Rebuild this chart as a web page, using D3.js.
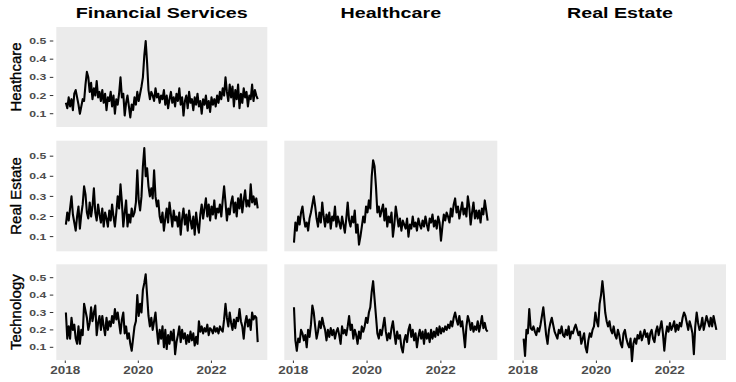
<!DOCTYPE html>
<html><head><meta charset="utf-8">
<script src="https://cdn.jsdelivr.net/npm/d3@7"></script>
<style>body{margin:0;background:#fff}svg{display:block}</style>
</head><body>
<svg id="c" width="736" height="382"></svg>
<script>
// ---- data ----
const colNames = ["Financial Services", "Healthcare", "Real Estate"];
const rowNames = ["Heathcare", "Real Estate", "Technology"];
const yTicks = [0.1, 0.2, 0.3, 0.4, 0.5];
const xTickYears = [2018, 2020, 2022];
const startDate = "2018-01-07"; // first observation, 14-day step
const stepDays = 14;

const fsHealthcare = [
 0.16,0.13,0.19,0.14,0.18,0.12, 0.21,0.23,0.19,0.15,0.10, 0.14,0.18,0.17,
 0.26,0.33,0.30,0.22,0.27, 0.18,0.24,0.20,0.28,0.19,0.22,0.17,
 0.23,0.16,0.21,0.12,0.19,0.17,0.22, 0.14,0.20,0.10,0.18,0.15,0.21,
 0.30,0.19,0.21, 0.09,0.16,0.20,0.14,0.08,0.15,0.12,0.19,0.15,
 0.22,0.17,0.21,0.25,0.30, 0.42,0.50,0.38, 0.23,0.18,0.22,0.20,
 0.17,0.24,0.19,0.21,0.16,0.20,0.18,0.23,
 0.15,0.20,0.13,0.18,0.22,0.16,0.19,0.14,0.21,0.17,
 0.24,0.15,0.19,0.09,0.17,0.20,0.13,0.22,0.16,0.18,
 0.12,0.19,0.15,0.21,0.14,0.17,0.10,0.18,0.15,0.20,
 0.13,0.17,0.11,0.19,0.15,0.18,0.14,0.20,0.16,0.22,
 0.18,0.24,0.20,0.30,0.22,
 0.17,0.26,0.19,0.25,0.14,0.23,0.18,0.26,0.13,0.21,
 0.16,0.24,0.19,0.22,0.14,0.20,0.18,0.26,0.17,0.23,0.20,0.18];

const fsRealEstate = [
 0.16,0.22,0.18,0.24,0.30,0.21,0.17,0.13,0.20,0.25,
 0.14,0.21,0.26,0.35,0.31,0.22,0.19,0.27,0.20,0.25,
 0.34,0.22,0.18,0.26,0.21,0.17,0.24,0.15,0.22,0.19,
 0.15,0.23,0.18,0.26,0.20,0.15,0.22,0.30,0.24,0.36,
 0.27,0.15,0.22,0.28,0.15,0.21,0.17,0.24,0.20,0.22,
 0.27,0.43,0.28,0.23,0.30,0.45,0.54,0.40,0.44,0.35,
 0.30,0.34,0.29,0.43,0.30,0.25,0.28,0.20,0.17,0.22,
 0.13,0.19,0.24,0.17,0.27,0.21,0.15,0.23,0.18,0.20,
 0.15,0.22,0.11,0.19,0.24,0.16,0.21,0.13,0.23,0.18,
 0.14,0.20,0.11,0.22,0.16,0.12,0.21,0.26,0.19,0.24,
 0.29,0.20,0.26,0.18,0.25,0.21,0.28,0.19,0.24,0.22,
 0.26,0.20,0.28,0.35,0.27,0.18,0.24,0.21,0.27,0.30,
 0.22,0.27,0.20,0.29,0.24,0.31,0.22,0.28,0.33,0.25,
 0.28,0.25,0.36,0.27,0.30,0.26,0.29,0.24];

const fsTechnology = [
 0.30,0.15,0.22,0.15,0.27,0.20,0.23,0.15,0.12,0.22,
 0.12,0.20,0.17,0.35,0.31,0.27,0.20,0.24,0.33,0.25,
 0.30,0.34,0.17,0.24,0.28,0.20,0.28,0.22,0.17,0.27,
 0.20,0.25,0.22,0.28,0.24,0.32,0.26,0.30,0.24,0.18,
 0.26,0.30,0.18,0.22,0.15,0.18,0.12,0.08,0.15,0.22,
 0.25,0.40,0.28,0.35,0.30,0.43,0.47,0.52,0.40,0.28,
 0.22,0.27,0.20,0.25,0.30,0.20,0.12,0.20,0.15,0.22,
 0.10,0.20,0.09,0.17,0.12,0.19,0.14,0.20,0.06,0.13,
 0.17,0.22,0.13,0.20,0.15,0.18,0.12,0.17,0.13,0.19,
 0.14,0.18,0.11,0.16,0.12,0.25,0.19,0.22,0.18,0.21,
 0.19,0.23,0.17,0.21,0.20,0.18,0.22,0.19,0.21,0.18,
 0.22,0.20,0.19,0.26,0.35,0.27,0.22,0.30,0.24,0.20,
 0.26,0.21,0.27,0.25,0.32,0.25,0.22,0.15,0.24,0.28,
 0.22,0.26,0.20,0.30,0.26,0.28,0.27,0.13];

const hcRealEstate = [
 0.07,0.17,0.13,0.20,0.16,0.22,0.25,0.19,0.15,0.17,
 0.13,0.19,0.22,0.26,0.30,0.25,0.19,0.15,0.22,0.17,
 0.27,0.20,0.15,0.21,0.17,0.22,0.14,0.20,0.18,0.25,
 0.15,0.20,0.17,0.14,0.20,0.16,0.12,0.19,0.27,0.18,
 0.15,0.20,0.17,0.23,0.12,0.16,0.06,0.10,0.15,0.20,
 0.17,0.25,0.22,0.28,0.24,0.40,0.48,0.45,0.35,0.22,
 0.25,0.20,0.23,0.26,0.18,0.24,0.15,0.20,0.17,0.22,
 0.10,0.16,0.25,0.20,0.15,0.19,0.13,0.18,0.16,0.14,
 0.19,0.10,0.16,0.14,0.20,0.15,0.17,0.13,0.19,0.16,
 0.14,0.18,0.15,0.20,0.16,0.13,0.19,0.17,0.21,0.15,
 0.18,0.14,0.20,0.17,0.08,0.15,0.21,0.18,0.22,0.20,
 0.17,0.24,0.20,0.26,0.29,0.22,0.25,0.19,0.23,0.27,
 0.21,0.24,0.20,0.30,0.25,0.16,0.22,0.27,0.19,0.23,
 0.19,0.23,0.17,0.24,0.21,0.28,0.23,0.18];

const hcTechnology = [
 0.33,0.14,0.08,0.15,0.13,0.20,0.18,0.14,0.17,0.10,
 0.20,0.16,0.23,0.34,0.30,0.22,0.15,0.19,0.25,0.21,
 0.27,0.23,0.20,0.14,0.20,0.16,0.21,0.17,0.20,0.15,
 0.19,0.21,0.17,0.12,0.22,0.18,0.20,0.17,0.22,0.28,
 0.20,0.23,0.15,0.20,0.17,0.12,0.19,0.15,0.22,0.19,
 0.22,0.27,0.24,0.30,0.33,0.42,0.48,0.38,0.28,0.18,
 0.15,0.20,0.17,0.22,0.27,0.19,0.14,0.18,0.15,0.21,
 0.25,0.18,0.12,0.19,0.15,0.17,0.10,0.07,0.14,0.17,
 0.13,0.20,0.23,0.16,0.20,0.14,0.18,0.10,0.16,0.20,
 0.15,0.19,0.12,0.20,0.15,0.18,0.13,0.20,0.15,0.19,
 0.16,0.21,0.17,0.22,0.18,0.21,0.19,0.22,0.20,0.23,
 0.21,0.25,0.22,0.27,0.30,0.26,0.23,0.28,0.22,0.25,
 0.18,0.10,0.22,0.28,0.25,0.20,0.24,0.19,0.22,0.20,
 0.25,0.19,0.23,0.28,0.21,0.24,0.20,0.19];

const reTechnology = [
 0.15,0.05,0.20,0.18,0.32,0.21,0.20,0.22,0.19,0.17,
 0.21,0.19,0.23,0.28,0.33,0.25,0.17,0.12,0.20,0.24,
 0.27,0.23,0.19,0.17,0.15,0.20,0.18,0.22,0.17,0.16,
 0.20,0.17,0.22,0.15,0.19,0.18,0.21,0.23,0.20,0.17,
 0.19,0.12,0.15,0.18,0.10,0.07,0.14,0.18,0.16,0.20,
 0.22,0.30,0.25,0.22,0.35,0.40,0.48,0.40,0.30,0.25,
 0.22,0.25,0.20,0.18,0.22,0.17,0.15,0.20,0.17,0.12,
 0.10,0.18,0.20,0.15,0.12,0.10,0.15,0.02,0.12,0.15,
 0.12,0.17,0.15,0.19,0.14,0.17,0.20,0.16,0.18,0.12,
 0.18,0.20,0.15,0.13,0.19,0.22,0.17,0.21,0.25,0.18,
 0.08,0.17,0.22,0.19,0.24,0.20,0.22,0.25,0.19,0.23,
 0.20,0.24,0.22,0.27,0.30,0.28,0.24,0.20,0.25,0.22,
 0.18,0.06,0.22,0.30,0.24,0.20,0.22,0.27,0.20,0.24,
 0.28,0.25,0.22,0.27,0.22,0.28,0.24,0.20];

// ---- layout ----
const colBox = [[56.3, 267.3], [284.3, 497.3], [514, 726]];
const rowBox = [[27, 127], [140.7, 251.3], [264.3, 360]];
const yDomain = [0.027, 0.577];

const panels = [
  {row: 0, col: 0, values: fsHealthcare},
  {row: 1, col: 0, values: fsRealEstate},
  {row: 1, col: 1, values: hcRealEstate},
  {row: 2, col: 0, values: fsTechnology},
  {row: 2, col: 1, values: hcTechnology},
  {row: 2, col: 2, values: reTechnology}
];

const svg = d3.select("#c");
const FONT = "'Liberation Sans', Arial, Helvetica, sans-serif";
const t0 = d3.timeParse("%Y-%m-%d")(startDate);

function xScaleFor(col, n) {
  const d0 = t0, d1 = d3.timeDay.offset(t0, stepDays * (n - 1));
  const span = d1 - d0;
  return d3.scaleTime()
    .domain([new Date(+d0 - span * 0.05), new Date(+d1 + span * 0.05)])
    .range(colBox[col]);
}

panels.forEach(p => {
  const n = p.values.length;
  const dates = d3.range(n).map(i => d3.timeDay.offset(t0, stepDays * i));
  const x = xScaleFor(p.col, n);
  const y = d3.scaleLinear().domain(yDomain).range([rowBox[p.row][1], rowBox[p.row][0]]);
  const g = svg.append("g");
  g.append("rect")
    .attr("x", colBox[p.col][0]).attr("y", rowBox[p.row][0])
    .attr("width", colBox[p.col][1] - colBox[p.col][0])
    .attr("height", rowBox[p.row][1] - rowBox[p.row][0])
    .attr("fill", "#ebebeb");
  const line = d3.line().x((d, i) => x(dates[i])).y(d => y(d));
  g.append("path").datum(p.values)
    .attr("d", line).attr("fill", "none")
    .attr("stroke", "#000").attr("stroke-width", 2.1)
    .attr("stroke-linejoin", "round");

  if (p.col === 0) {
    const left = colBox[0][0];
    yTicks.forEach(v => {
      g.append("line").attr("x1", left - 6.5).attr("x2", left - 3)
        .attr("y1", y(v)).attr("y2", y(v))
        .attr("stroke", "#333").attr("stroke-width", 1);
      g.append("text").attr("x", 29.3).attr("y", y(v) + 3.1)
        .attr("font-family", FONT).attr("font-weight", "bold")
        .attr("font-size", 8.8).attr("fill", "#4d4d4d")
        .attr("textLength", 17).attr("lengthAdjust", "spacingAndGlyphs")
        .text(d3.format(".1f")(v));
    });
  }
  if (p.row === 2) {
    const bottom = rowBox[2][1];
    xTickYears.forEach(yr => {
      const xv = x(new Date(yr, 0, 1));
      g.append("line").attr("x1", xv).attr("x2", xv)
        .attr("y1", bottom + 0.5).attr("y2", bottom + 3)
        .attr("stroke", "#333").attr("stroke-width", 1);
      g.append("text").attr("x", xv - 15).attr("y", 373.7)
        .attr("font-family", FONT).attr("font-weight", "bold")
        .attr("font-size", 10.4).attr("fill", "#4d4d4d")
        .attr("textLength", 30).attr("lengthAdjust", "spacingAndGlyphs")
        .text(String(yr));
    });
  }
});

const titleLen = [172, 100.6, 106];
colNames.forEach((name, c) => {
  const cx = (colBox[c][0] + colBox[c][1]) / 2;
  svg.append("text")
    .attr("x", cx - titleLen[c] / 2).attr("y", 18)
    .attr("font-family", FONT).attr("font-weight", "bold")
    .attr("font-size", 15).attr("fill", "#000")
    .attr("textLength", titleLen[c]).attr("lengthAdjust", "spacingAndGlyphs")
    .text(name);
});

rowNames.forEach((name, r) => {
  const cy = (rowBox[r][0] + rowBox[r][1]) / 2;
  svg.append("text")
    .attr("transform", `translate(20.5,${cy}) rotate(-90)`)
    .attr("text-anchor", "middle")
    .attr("font-family", FONT)
    .attr("font-size", 15).attr("fill", "#000")
    .attr("stroke", "#000").attr("stroke-width", 0.35)
    .text(name);
});
</script>
</body></html>
